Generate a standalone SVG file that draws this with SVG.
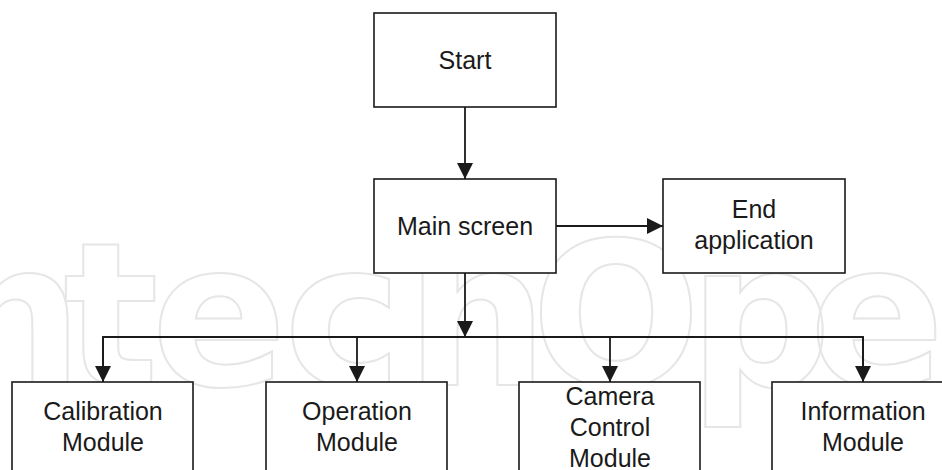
<svg xmlns="http://www.w3.org/2000/svg" width="942" height="470" viewBox="0 0 942 470">
  <defs>
    <marker id="arrow" viewBox="0 0 16 18" refX="16" refY="9" markerWidth="16" markerHeight="18" markerUnits="userSpaceOnUse" orient="auto">
      <path d="M0,1 L16,9 L0,17 Z" fill="#1a1a1a"/>
    </marker>
    <style>
      .box { fill: #ffffff; stroke: #1a1a1a; stroke-width: 1.6; }
      .label { font-family: "Liberation Sans", Arial, sans-serif; font-size: 25px; fill: #1a1a1a; text-anchor: middle; }
      .link { fill: none; stroke: #1a1a1a; stroke-width: 1.8; }
      .mark { font-family: "DejaVu Sans", sans-serif; font-weight: bold; font-size: 200px; fill: none; stroke: #e6e6e6; stroke-width: 2; text-anchor: middle; }
    </style>
  </defs>
  <rect width="942" height="470" fill="#ffffff"/>

  <!-- faint background lettering -->
  <text class="mark" y="385"><tspan x="-70">I</tspan><tspan x="12">n</tspan><tspan x="111">t</tspan><tspan x="219">e</tspan><tspan x="343">c</tspan><tspan x="477">h</tspan><tspan x="616">O</tspan><tspan x="760">p</tspan><tspan x="877">e</tspan><tspan x="1000">n</tspan></text>

  <g id="connectors">
    <line class="link" x1="465" y1="107" x2="465" y2="179" marker-end="url(#arrow)"/>
    <line class="link" x1="556" y1="226" x2="663" y2="226" marker-end="url(#arrow)"/>
    <line class="link" x1="465" y1="273" x2="465" y2="337" marker-end="url(#arrow)"/>
    <polyline class="link" points="103,382 103,337 863,337 863,382"/>
    <line class="link" x1="103" y1="337" x2="103" y2="382" marker-end="url(#arrow)"/>
    <line class="link" x1="357" y1="337" x2="357" y2="382" marker-end="url(#arrow)"/>
    <line class="link" x1="610" y1="337" x2="610" y2="382" marker-end="url(#arrow)"/>
    <line class="link" x1="863" y1="337" x2="863" y2="382" marker-end="url(#arrow)"/>
  </g>

  <g id="start">
    <rect class="box" x="374" y="13" width="182" height="94"/>
    <text class="label" x="465" y="69">Start</text>
  </g>

  <g id="main-screen">
    <rect class="box" x="374" y="179" width="182" height="94"/>
    <text class="label" x="465" y="235">Main screen</text>
  </g>

  <g id="end-application">
    <rect class="box" x="663" y="179" width="182" height="94"/>
    <text class="label" x="754" y="218">End</text>
    <text class="label" x="754" y="249">application</text>
  </g>

  <g id="calibration-module">
    <rect class="box" x="12" y="382" width="181" height="110"/>
    <text class="label" x="103" y="420">Calibration</text>
    <text class="label" x="103" y="451">Module</text>
  </g>

  <g id="operation-module">
    <rect class="box" x="266" y="382" width="181" height="110"/>
    <text class="label" x="357" y="420">Operation</text>
    <text class="label" x="357" y="451">Module</text>
  </g>

  <g id="camera-control-module">
    <rect class="box" x="519" y="382" width="181" height="110"/>
    <text class="label" x="610" y="405">Camera</text>
    <text class="label" x="610" y="436">Control</text>
    <text class="label" x="610" y="467">Module</text>
  </g>

  <g id="information-module">
    <rect class="box" x="772" y="382" width="181" height="110"/>
    <text class="label" x="863" y="420">Information</text>
    <text class="label" x="863" y="451">Module</text>
  </g>
</svg>
